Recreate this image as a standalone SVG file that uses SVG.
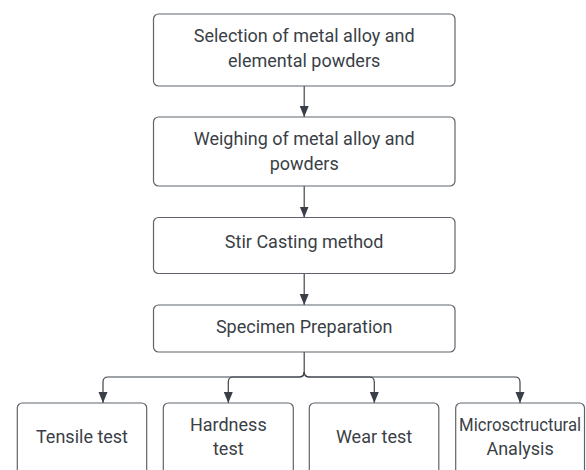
<svg xmlns="http://www.w3.org/2000/svg" width="586" height="470" viewBox="0 0 586 470">
<style>
.box{fill:#ffffff;stroke:#5f646c;stroke-width:1.2}
.t{font-family:Roboto,"Liberation Sans",sans-serif;font-size:18px;fill:#3a3f47;text-anchor:middle}
.c{fill:none;stroke:#3f444c;stroke-width:1.2}
</style>
<defs>
<marker id="ah" markerUnits="userSpaceOnUse" markerWidth="12" markerHeight="10" refX="11" refY="4.5" orient="auto">
<path d="M0,0 L11,4.5 L0,9 z" fill="#3a3f47"/>
</marker>
</defs>
<rect width="586" height="470" fill="#ffffff"/>
<g id="connectors">
<path class="c" d="M304.2,86 V117" marker-end="url(#ah)"/>
<path class="c" d="M304.2,186 V217.5" marker-end="url(#ah)"/>
<path class="c" d="M304.2,273.5 V305" marker-end="url(#ah)"/>
<path class="c" d="M304.2,352 V372 Q304.2,377 299.2,377 H108 Q103,377 103,382 V403" marker-end="url(#ah)"/>
<path class="c" d="M304.2,372 Q304.2,377 299.2,377 H233.3 Q228.3,377 228.3,382 V403" marker-end="url(#ah)"/>
<path class="c" d="M304.2,372 Q304.2,377 309.2,377 H369.3 Q374.3,377 374.3,382 V403" marker-end="url(#ah)"/>
<path class="c" d="M304.2,372 Q304.2,377 309.2,377 H515 Q520,377 520,382 V403" marker-end="url(#ah)"/>
</g>
<g id="n1">
<rect class="box" x="153.5" y="14" width="301.5" height="72" rx="5"/>
<text class="t" x="304.2" y="41.7">Selection of metal alloy and</text>
<text class="t" x="304.2" y="66.5">elemental powders</text>
</g>
<g id="n2">
<rect class="box" x="153.5" y="117" width="301.5" height="69" rx="5"/>
<text class="t" x="304.2" y="145">Weighing of metal alloy and</text>
<text class="t" x="304.2" y="170">powders</text>
</g>
<g id="n3">
<rect class="box" x="153.5" y="217.5" width="301.5" height="56" rx="5"/>
<text class="t" x="304.2" y="248.3">Stir Casting method</text>
</g>
<g id="n4">
<rect class="box" x="153.5" y="305" width="301.5" height="47" rx="5"/>
<text class="t" x="304.2" y="333.3">Specimen Preparation</text>
</g>
<g id="n5">
<rect class="box" x="17.3" y="403" width="129.4" height="80" rx="5"/>
<text class="t" x="82" y="443">Tensile test</text>
</g>
<g id="n6">
<rect class="box" x="163.3" y="403" width="130" height="80" rx="5"/>
<text class="t" x="228.3" y="431">Hardness</text>
<text class="t" x="228.3" y="455">test</text>
</g>
<g id="n7">
<rect class="box" x="309.3" y="403" width="129.5" height="80" rx="5"/>
<text class="t" x="374" y="443">Wear test</text>
</g>
<g id="n8">
<rect class="box" x="455.7" y="403" width="128.8" height="80" rx="5"/>
<text class="t" x="520.1" y="431" textLength="122" lengthAdjust="spacingAndGlyphs">Microsctructural</text>
<text class="t" x="520.1" y="455">Analysis</text>
</g>
</svg>
